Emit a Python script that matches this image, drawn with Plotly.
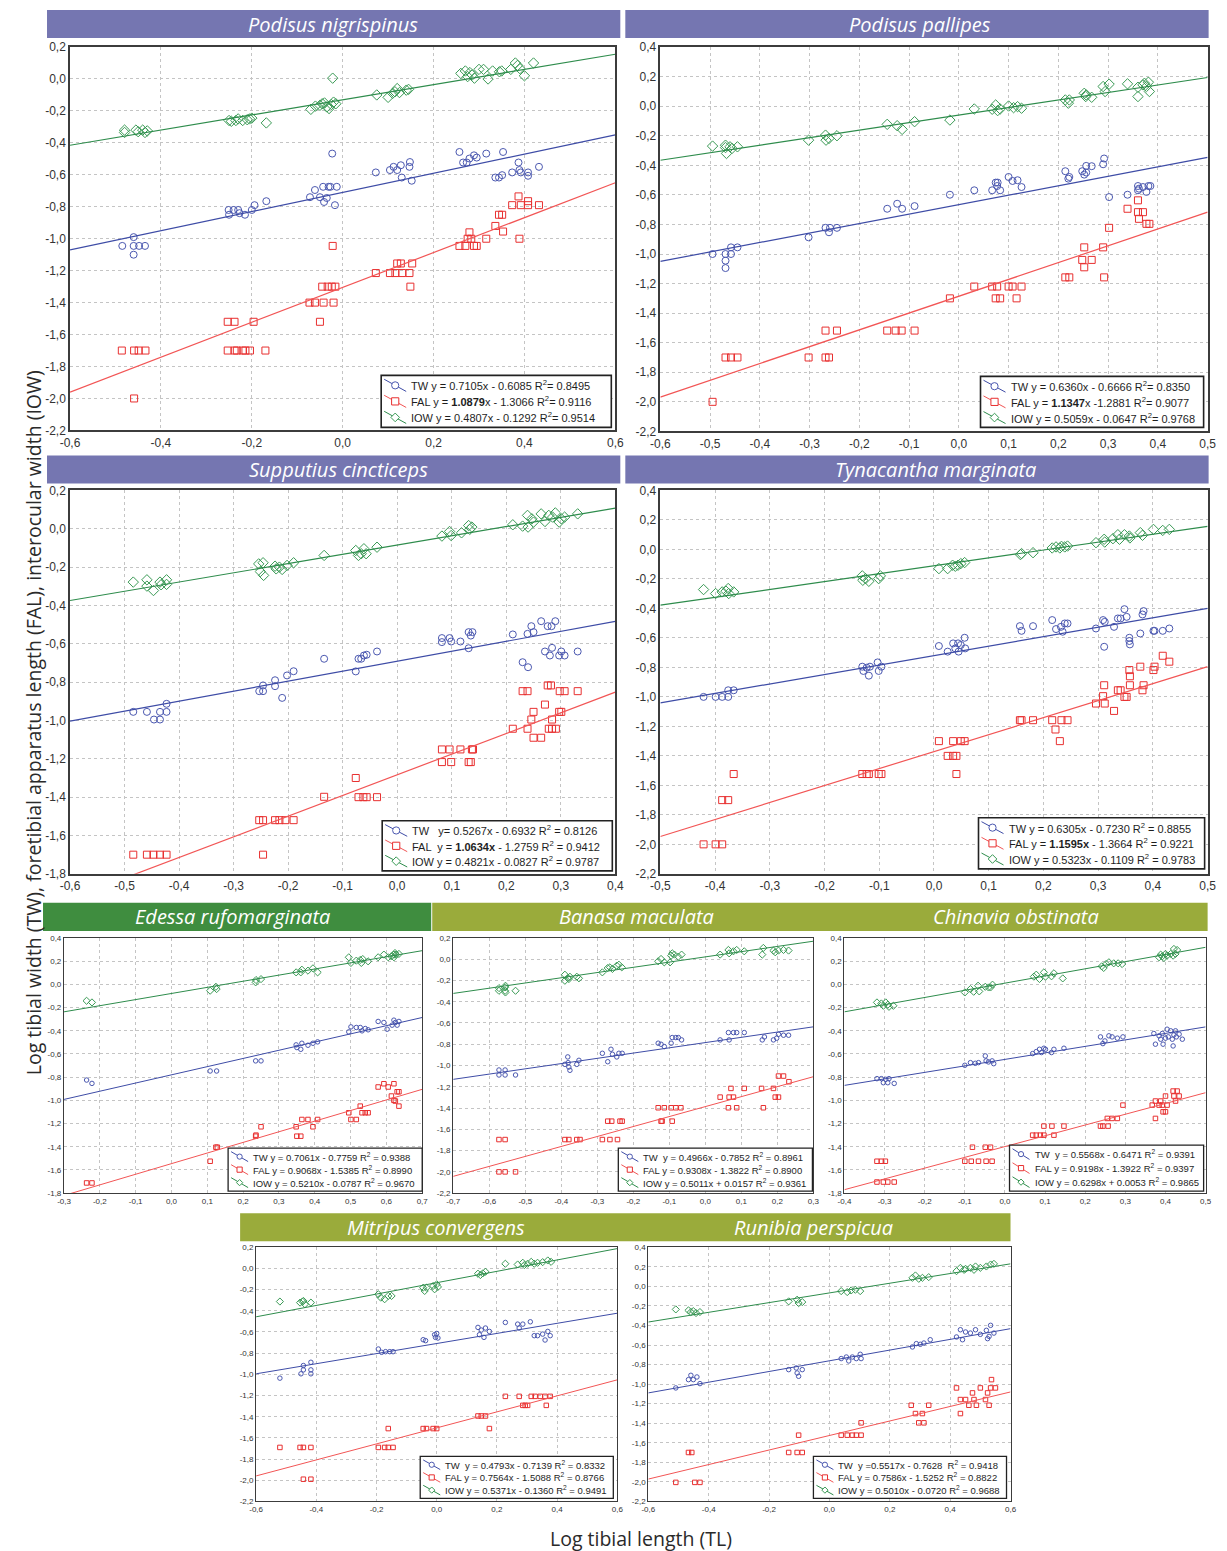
import plotly.graph_objects as go

# ---------------------------------------------------------------- data
species = ["Podisus nigrispinus", "Podisus pallipes", "Supputius cincticeps",
           "Tynacantha marginata", "Edessa rufomarginata", "Banasa maculata",
           "Chinavia obstinata", "Mitripus convergens", "Runibia perspicua"]

x_ranges = [[-0.6, 0.6], [-0.6, 0.5], [-0.6, 0.4], [-0.5, 0.5], [-0.3, 0.7],
            [-0.7, 0.3], [-0.4, 0.5], [-0.6, 0.6], [-0.6, 0.6]]
y_ranges = [[-2.2, 0.2], [-2.2, 0.4], [-1.8, 0.2], [-2.2, 0.4], [-1.8, 0.4],
            [-2.2, 0.2], [-1.8, 0.4], [-2.2, 0.2], [-2.2, 0.4]]
x_tick_steps = [0.2, 0.1, 0.1, 0.1, 0.1, 0.1, 0.1, 0.2, 0.2]
y_tick_step = 0.2

# fitted lines, value at left and right end of the x range
fit_tw = [[-1.07, -0.35], [-1.05, -0.347], [-1.003, -0.483], [-1.04, -0.40], [-0.992, -0.286],
          [-1.13, -0.636], [-0.871, -0.367], [-0.995, -0.423], [-1.09, -0.433]]
fit_fal = [[-1.96, -0.65], [-1.968, -0.717], [-1.93, -0.852], [-1.947, -0.795], [-1.82, -0.905],
           [-2.042, -1.105], [-1.77, -0.934], [-1.959, -1.052], [-1.971, -1.08]]
fit_iow = [[-0.415, 0.155], [-0.366, 0.194], [-0.374, 0.108], [-0.378, 0.156], [-0.237, 0.29],
           [-0.322, 0.169], [-0.237, 0.319], [-0.457, 0.187], [-0.365, 0.23]]

tw_labels = ["TW y = 0.7105x - 0.6085 R<sup>2</sup>= 0.8495",
             "TW y = 0.6360x - 0.6666 R<sup>2</sup>= 0.8350",
             "TW   y= 0.5267x - 0.6932 R<sup>2</sup> = 0.8126",
             "TW y = 0.6305x - 0.7230 R<sup>2</sup> = 0.8855",
             "TW y = 0.7061x - 0.7759 R<sup>2</sup> = 0.9388",
             "TW  y = 0.4966x - 0.7852 R<sup>2</sup> = 0.8961",
             "TW  y = 0.5568x - 0.6471 R<sup>2</sup> = 0.9391",
             "TW  y = 0.4793x - 0.7139 R<sup>2</sup> = 0.8332",
             "TW  y =0.5517x - 0.7628  R<sup>2</sup> = 0.9418"]
fal_labels = ["FAL y = <b>1.0879</b>x - 1.3066 R<sup>2</sup>= 0.9116",
              "FAL y = <b>1.1347</b>x -1.2881 R<sup>2</sup>= 0.9077",
              "FAL  y = <b>1.0634x</b> - 1.2759 R<sup>2</sup> = 0.9412",
              "FAL y = <b>1.1595x</b> - 1.3664 R<sup>2</sup> = 0.9221",
              "FAL y = 0.9068x - 1.5385 R<sup>2</sup> = 0.8990",
              "FAL y = 0.9308x - 1.3822 R<sup>2</sup> = 0.8900",
              "FAL y = 0.9198x - 1.3922 R<sup>2</sup> = 0.9397",
              "FAL y = 0.7564x - 1.5088 R<sup>2</sup> = 0.8766",
              "FAL y = 0.7586x - 1.5252 R<sup>2</sup> = 0.8822"]
iow_labels = ["IOW y = 0.4807x - 0.1292 R<sup>2</sup>= 0.9514",
              "IOW y = 0.5059x - 0.0647 R<sup>2</sup>= 0.9768",
              "IOW y = 0.4821x - 0.0827 R<sup>2</sup> = 0.9787",
              "IOW y = 0.5323x - 0.1109 R<sup>2</sup> = 0.9783",
              "IOW y = 0.5210x - 0.0787 R<sup>2</sup> = 0.9670",
              "IOW y = 0.5011x + 0.0157 R<sup>2</sup> = 0.9361",
              "IOW y = 0.6298x + 0.0053 R<sup>2</sup> = 0.9865",
              "IOW y = 0.5371x - 0.1360 R<sup>2</sup> = 0.9491",
              "IOW y = 0.5010x - 0.0720 R<sup>2</sup> = 0.9688"]

# ---- Podisus nigrispinus
p1_tw = [(-0.485,-1.045),(-0.46,-0.99),(-0.46,-1.045),(-0.46,-1.1),(-0.448,-1.045),(-0.435,-1.045),
 (-0.251,-0.82),(-0.25,-0.85),(-0.24,-0.82),(-0.23,-0.82),(-0.227,-0.84),(-0.215,-0.85),(-0.2,-0.82),(-0.194,-0.79),(-0.168,-0.765),
 (-0.072,-0.74),(-0.061,-0.695),(-0.05,-0.74),(-0.043,-0.675),(-0.041,-0.77),(-0.035,-0.745),(-0.031,-0.675),(-0.027,-0.675),(-0.023,-0.467),(-0.017,-0.79),(-0.013,-0.675),
 (0.073,-0.585),(0.104,-0.57),(0.112,-0.55),(0.12,-0.57),(0.128,-0.54),(0.13,-0.617),(0.147,-0.55),(0.148,-0.52),(0.152,-0.637),
 (0.257,-0.457),(0.265,-0.523),(0.273,-0.523),(0.279,-0.498),(0.289,-0.478),(0.295,-0.492),(0.316,-0.467),(0.336,-0.617),(0.344,-0.617),
 (0.351,-0.602),(0.353,-0.457),(0.373,-0.585),(0.387,-0.523),(0.389,-0.57),(0.392,-0.585),(0.408,-0.585),(0.408,-0.606),(0.432,-0.55)]
p1_fal = [(-0.486,-1.7),(-0.459,-1.7),(-0.449,-1.7),(-0.434,-1.7),(-0.459,-2.0),
 (-0.253,-1.52),(-0.238,-1.52),(-0.196,-1.52),
 (-0.253,-1.7),(-0.238,-1.7),(-0.233,-1.7),(-0.22,-1.7),(-0.214,-1.7),(-0.204,-1.7),(-0.17,-1.7),
 (-0.073,-1.4),(-0.061,-1.4),(-0.042,-1.4),(-0.02,-1.4),
 (-0.045,-1.3),(-0.033,-1.3),(-0.024,-1.3),(-0.016,-1.3),(-0.05,-1.52),(-0.022,-1.045),
 (0.073,-1.215),(0.104,-1.215),(0.116,-1.215),(0.131,-1.215),(0.147,-1.215),
 (0.12,-1.155),(0.128,-1.155),(0.153,-1.155),(0.149,-1.3),
 (0.257,-1.045),(0.27,-1.045),(0.275,-1.0),(0.283,-1.0),(0.289,-1.045),(0.295,-1.045),(0.316,-1.0),(0.389,-1.0),
 (0.279,-0.96),(0.336,-0.92),(0.344,-0.85),(0.351,-0.85),(0.353,-0.955),(0.373,-0.79),(0.387,-0.735),(0.392,-0.79),
 (0.408,-0.765),(0.408,-0.79),(0.432,-0.79)]
p1_iow = [(-0.48,-0.32),(-0.48,-0.335),(-0.455,-0.32),(-0.45,-0.33),(-0.44,-0.32),(-0.435,-0.335),(-0.43,-0.325),
 (-0.25,-0.26),(-0.245,-0.265),(-0.235,-0.26),(-0.23,-0.25),(-0.22,-0.26),(-0.21,-0.255),(-0.205,-0.25),(-0.2,-0.245),(-0.168,-0.275),
 (-0.07,-0.19),(-0.06,-0.17),(-0.05,-0.165),(-0.045,-0.155),(-0.04,-0.15),(-0.035,-0.175),(-0.03,-0.185),(-0.025,-0.16),(-0.02,-0.145),(-0.015,-0.155),(-0.022,0.005),
 (0.075,-0.1),(0.1,-0.115),(0.11,-0.09),(0.115,-0.08),(0.12,-0.06),(0.125,-0.085),(0.14,-0.07),(0.145,-0.065),
 (0.26,0.035),(0.27,0.05),(0.275,0.015),(0.28,0.04),(0.285,0.025),(0.29,0.005),(0.3,0.06),(0.31,0.06),(0.32,0.0),
 (0.33,0.05),(0.345,0.045),(0.35,0.05),(0.37,0.06),(0.38,0.1),(0.385,0.085),(0.39,0.065),(0.4,0.02),(0.42,0.1)]

# ---- Podisus pallipes
p2_tw = [(-0.495,-1.0),(-0.469,-1.0),(-0.469,-1.045),(-0.469,-1.095),(-0.458,-0.955),(-0.458,-1.0),(-0.445,-0.955),
 (-0.302,-0.887),(-0.268,-0.823),(-0.261,-0.853),(-0.259,-0.823),(-0.245,-0.823),
 (-0.144,-0.694),(-0.124,-0.66),(-0.114,-0.694),(-0.089,-0.676),(-0.018,-0.599),
 (0.031,-0.569),(0.067,-0.569),(0.074,-0.517),(0.077,-0.54),(0.078,-0.517),(0.083,-0.569),(0.1,-0.479),(0.108,-0.506),(0.118,-0.501),(0.126,-0.547),
 (0.214,-0.44),(0.22,-0.49),(0.222,-0.479),(0.248,-0.44),(0.252,-0.463),(0.256,-0.404),(0.256,-0.449),(0.267,-0.406),(0.29,-0.393),(0.292,-0.354),
 (0.302,-0.615),(0.339,-0.599),(0.36,-0.54),(0.36,-0.569),(0.362,-0.558),(0.37,-0.547),(0.377,-0.58),(0.381,-0.54),(0.385,-0.54)]
p2_fal = [(-0.495,-2.0),(-0.469,-1.7),(-0.458,-1.7),(-0.445,-1.7),(-0.302,-1.7),(-0.268,-1.7),(-0.261,-1.7),
 (-0.268,-1.518),(-0.245,-1.518),(-0.144,-1.518),(-0.127,-1.518),(-0.115,-1.518),(-0.089,-1.518),
 (-0.018,-1.3),(0.031,-1.22),(0.067,-1.22),(0.077,-1.22),(0.1,-1.22),(0.108,-1.22),(0.126,-1.22),
 (0.074,-1.3),(0.083,-1.3),(0.116,-1.3),
 (0.214,-1.158),(0.222,-1.158),(0.248,-1.04),(0.252,-0.955),(0.252,-1.09),(0.267,-1.04),(0.29,-0.955),(0.292,-1.158),
 (0.302,-0.823),(0.339,-0.694),(0.36,-0.637),(0.36,-0.717),(0.362,-0.762),(0.37,-0.717),(0.377,-0.796),(0.383,-0.796)]
p2_iow = [(-0.495,-0.27),(-0.469,-0.264),(-0.469,-0.28),(-0.467,-0.32),(-0.46,-0.275),(-0.456,-0.286),(-0.445,-0.275),
 (-0.302,-0.23),(-0.268,-0.196),(-0.267,-0.23),(-0.261,-0.218),(-0.245,-0.2),
 (-0.144,-0.123),(-0.124,-0.132),(-0.114,-0.157),(-0.089,-0.105),(-0.018,-0.094),
 (0.031,-0.019),(0.067,-0.021),(0.074,0.008),(0.078,-0.03),(0.083,-0.019),(0.1,0.001),(0.11,-0.01),(0.118,-0.003),(0.126,-0.014),
 (0.214,0.042),(0.22,0.02),(0.222,0.042),(0.252,0.087),(0.255,0.065),(0.256,0.076),(0.267,0.06),
 (0.29,0.133),(0.294,0.099),(0.302,0.149),(0.339,0.151),(0.36,0.128),(0.36,0.065),(0.37,0.144),(0.373,0.155),(0.377,0.133),(0.381,0.162),(0.383,0.099)]

# ---- Supputius cincticeps
p3_tw = [(-0.484,-0.955),(-0.459,-0.955),(-0.446,-0.995),(-0.435,-0.955),(-0.435,-0.995),(-0.423,-0.955),(-0.423,-0.913),
 (-0.253,-0.847),(-0.246,-0.817),(-0.246,-0.847),(-0.224,-0.821),(-0.224,-0.79),(-0.211,-0.882),(-0.202,-0.765),(-0.19,-0.743),
 (-0.134,-0.678),(-0.076,-0.744),(-0.071,-0.678),(-0.066,-0.678),(-0.061,-0.661),(-0.056,-0.657),(-0.037,-0.64),
 (0.082,-0.57),(0.082,-0.591),(0.096,-0.57),(0.099,-0.588),(0.116,-0.588),(0.131,-0.539),(0.131,-0.623),(0.135,-0.557),(0.138,-0.539),
 (0.212,-0.551),(0.23,-0.696),(0.239,-0.548),(0.24,-0.722),(0.246,-0.508),(0.25,-0.539),(0.264,-0.482),(0.271,-0.64),(0.276,-0.508),
 (0.28,-0.661),(0.283,-0.508),(0.284,-0.621),(0.29,-0.482),(0.297,-0.661),(0.301,-0.64),(0.307,-0.661),(0.331,-0.64)]
p3_fal = [(-0.484,-1.7),(-0.459,-1.7),(-0.447,-1.7),(-0.435,-1.7),(-0.423,-1.7),
 (-0.253,-1.52),(-0.246,-1.52),(-0.224,-1.52),(-0.216,-1.52),(-0.205,-1.52),(-0.19,-1.52),(-0.246,-1.7),
 (-0.134,-1.398),(-0.076,-1.3),(-0.071,-1.4),(-0.062,-1.4),(-0.056,-1.4),(-0.037,-1.4),
 (0.082,-1.151),(0.082,-1.217),(0.096,-1.151),(0.099,-1.217),(0.116,-1.151),(0.131,-1.217),(0.135,-1.217),(0.137,-1.151),(0.139,-1.151),
 (0.212,-1.043),(0.23,-0.847),(0.239,-0.847),(0.239,-1.043),(0.246,-0.995),(0.25,-0.955),(0.25,-1.09),(0.264,-1.09),(0.271,-0.917),
 (0.276,-0.817),(0.282,-0.817),(0.278,-1.043),(0.284,-0.995),(0.284,-1.043),(0.291,-1.043),(0.297,-0.955),(0.298,-0.847),(0.301,-0.955),
 (0.307,-0.847),(0.331,-0.847)]
p3_iow = [(-0.484,-0.278),(-0.459,-0.266),(-0.459,-0.299),(-0.447,-0.322),(-0.435,-0.278),(-0.433,-0.292),(-0.423,-0.266),(-0.423,-0.29),
 (-0.254,-0.183),(-0.251,-0.223),(-0.246,-0.177),(-0.245,-0.243),(-0.224,-0.195),(-0.222,-0.209),(-0.216,-0.2),(-0.211,-0.212),(-0.202,-0.191),(-0.19,-0.177),
 (-0.134,-0.139),(-0.076,-0.113),(-0.071,-0.139),(-0.066,-0.13),(-0.061,-0.104),(-0.057,-0.13),(-0.037,-0.096),
 (0.082,-0.038),(0.096,-0.014),(0.099,-0.035),(0.118,-0.021),(0.131,0.017),(0.133,-0.003),(0.137,0.009),
 (0.212,0.021),(0.23,0.014),(0.239,0.07),(0.24,0.009),(0.247,0.052),(0.25,0.035),(0.264,0.078),(0.271,0.038),(0.278,0.07),
 (0.285,0.061),(0.29,0.083),(0.297,0.035),(0.301,0.052),(0.307,0.061),(0.331,0.078)]

# ---- Tynacantha marginata
p4_tw = [(-0.421,-1.0),(-0.399,-1.0),(-0.387,-1.0),(-0.376,-1.0),(-0.376,-0.955),(-0.366,-0.955),
 (-0.131,-0.795),(-0.129,-0.824),(-0.123,-0.802),(-0.119,-0.856),(-0.117,-0.795),(-0.103,-0.766),(-0.101,-0.824),(-0.096,-0.795),
 (0.009,-0.655),(0.025,-0.693),(0.035,-0.637),(0.039,-0.671),(0.044,-0.637),(0.045,-0.693),(0.049,-0.648),(0.056,-0.599),(0.057,-0.671),
 (0.157,-0.52),(0.16,-0.552),(0.181,-0.52),(0.216,-0.479),(0.223,-0.54),(0.232,-0.525),(0.235,-0.558),(0.239,-0.502),(0.244,-0.502),
 (0.296,-0.536),(0.309,-0.479),(0.311,-0.66),(0.312,-0.491),(0.329,-0.525),(0.336,-0.468),(0.341,-0.468),(0.348,-0.405),(0.352,-0.457),
 (0.357,-0.599),(0.357,-0.621),(0.358,-0.644),(0.377,-0.57),(0.381,-0.441),(0.383,-0.418),(0.401,-0.552),(0.403,-0.552),(0.418,-0.552),(0.43,-0.536)]
p4_fal = [(-0.421,-2.0),(-0.399,-2.0),(-0.387,-2.0),(-0.387,-1.7),(-0.376,-1.7),(-0.366,-1.523),
 (-0.131,-1.523),(-0.123,-1.523),(-0.119,-1.523),(-0.101,-1.523),(-0.096,-1.523),
 (0.009,-1.3),(0.025,-1.4),(0.035,-1.4),(0.035,-1.3),(0.041,-1.4),(0.041,-1.523),(0.049,-1.3),(0.056,-1.3),
 (0.157,-1.158),(0.16,-1.158),(0.181,-1.158),(0.216,-1.158),(0.222,-1.221),(0.23,-1.3),(0.233,-1.158),(0.244,-1.158),
 (0.296,-1.045),(0.309,-0.995),(0.311,-0.921),(0.312,-1.045),(0.329,-1.095),(0.336,-0.955),(0.341,-0.955),(0.348,-1.0),(0.352,-1.0),
 (0.358,-0.921),(0.358,-0.86),(0.381,-0.955),(0.383,-0.921),
 (0.357,-0.818),(0.377,-0.795),(0.401,-0.818),(0.403,-0.795),(0.418,-0.721),(0.43,-0.761)]
p4_iow = [(-0.421,-0.272),(-0.399,-0.299),(-0.387,-0.288),(-0.38,-0.283),(-0.376,-0.265),(-0.375,-0.299),(-0.366,-0.288),
 (-0.131,-0.179),(-0.13,-0.209),(-0.125,-0.198),(-0.119,-0.216),(-0.101,-0.198),(-0.098,-0.179),
 (0.009,-0.13),(0.025,-0.13),(0.034,-0.107),(0.039,-0.114),(0.044,-0.107),(0.049,-0.096),(0.056,-0.089),
 (0.158,-0.035),(0.16,-0.028),(0.181,-0.022),(0.216,0.01),(0.223,0.017),(0.23,0.01),(0.233,0.021),(0.239,0.017),(0.244,0.023),
 (0.296,0.046),(0.311,0.069),(0.312,0.05),(0.327,0.073),(0.336,0.1),(0.339,0.069),(0.348,0.1),(0.357,0.091),(0.358,0.078),
 (0.377,0.114),(0.381,0.096),(0.401,0.136),(0.418,0.129),(0.43,0.136)]

# ---- Edessa rufomarginata
p5_tw = [(-0.237,-0.825),(-0.222,-0.854),(0.108,-0.747),(0.126,-0.747),(0.235,-0.66),(0.25,-0.66),
 (0.348,-0.522),(0.35,-0.545),(0.361,-0.56),(0.364,-0.508),(0.381,-0.525),(0.395,-0.508),(0.408,-0.496),
 (0.495,-0.41),(0.501,-0.367),(0.516,-0.372),(0.527,-0.372),(0.532,-0.401),(0.541,-0.381),(0.549,-0.392),
 (0.577,-0.32),(0.593,-0.329),(0.602,-0.387),(0.616,-0.352),(0.621,-0.309),(0.625,-0.329),(0.63,-0.352),(0.635,-0.32)]
p5_fal = [(-0.237,-1.712),(-0.222,-1.712),(0.108,-1.525),(0.124,-1.404),(0.128,-1.404),(0.235,-1.309),(0.236,-1.3),(0.25,-1.228),
 (0.348,-1.228),(0.35,-1.309),(0.361,-1.309),(0.364,-1.165),(0.381,-1.165),(0.395,-1.228),(0.408,-1.165),
 (0.495,-1.107),(0.501,-1.165),(0.516,-1.165),(0.527,-1.05),(0.532,-1.107),(0.541,-1.107),(0.549,-1.107),
 (0.577,-0.885),(0.593,-0.857),(0.605,-0.885),(0.614,-0.963),(0.621,-0.857),(0.621,-1.0),(0.625,-1.006),(0.63,-0.926),(0.635,-1.05),(0.635,-0.926)]
p5_iow = [(-0.237,-0.142),(-0.222,-0.156),(0.108,-0.055),(0.124,-0.021),(0.126,-0.041),(0.235,0.017),(0.236,0.037),(0.25,0.045),
 (0.348,0.103),(0.361,0.103),(0.364,0.126),(0.381,0.118),(0.395,0.138),(0.408,0.103),
 (0.495,0.233),(0.501,0.184),(0.516,0.204),(0.527,0.21),(0.53,0.184),(0.534,0.218),(0.549,0.198),
 (0.577,0.233),(0.593,0.256),(0.605,0.233),(0.614,0.241),(0.621,0.256),(0.624,0.27),(0.627,0.256),(0.635,0.262),(0.621,0.233)]

# ---- Banasa maculata
p6_tw = [(-0.573,-1.042),(-0.573,-1.089),(-0.556,-1.042),(-0.556,-1.089),(-0.527,-1.089),
 (-0.39,-0.989),(-0.382,-0.919),(-0.381,-0.973),(-0.379,-1.014),(-0.376,-1.045),(-0.357,-0.989),(-0.351,-0.951),
 (-0.286,-0.885),(-0.271,-0.964),(-0.262,-0.847),(-0.258,-0.894),(-0.246,-0.919),(-0.24,-0.885),(-0.231,-0.885),
 (-0.131,-0.79),(-0.123,-0.8),(-0.114,-0.822),(-0.095,-0.79),(-0.092,-0.737),(-0.082,-0.737),(-0.075,-0.737),(-0.066,-0.759),
 (0.041,-0.759),(0.064,-0.69),(0.066,-0.759),(0.078,-0.69),(0.087,-0.69),(0.108,-0.69),(0.158,-0.759),(0.164,-0.731),
 (0.189,-0.759),(0.198,-0.743),(0.203,-0.706),(0.217,-0.715),(0.231,-0.715)]
p6_fal = [(-0.573,-1.696),(-0.556,-1.696),(-0.573,-2.0),(-0.556,-2.0),(-0.527,-2.0),
 (-0.39,-1.696),(-0.379,-1.696),(-0.357,-1.696),(-0.348,-1.696),
 (-0.286,-1.696),(-0.265,-1.696),(-0.244,-1.696),(-0.271,-1.523),(-0.26,-1.523),(-0.237,-1.523),(-0.231,-1.523),
 (-0.131,-1.397),(-0.114,-1.397),(-0.095,-1.397),(-0.082,-1.397),(-0.068,-1.397),(-0.123,-1.523),(-0.12,-1.523),(-0.092,-1.523),
 (0.041,-1.297),(0.064,-1.397),(0.066,-1.297),(0.071,-1.215),(0.078,-1.297),(0.087,-1.397),(0.108,-1.215),(0.156,-1.215),
 (0.161,-1.397),(0.189,-1.215),(0.194,-1.297),(0.203,-1.297),(0.203,-1.099),(0.217,-1.099),(0.232,-1.152)]
p6_iow = [(-0.573,-0.297),(-0.573,-0.272),(-0.556,-0.265),(-0.556,-0.297),(-0.555,-0.313),(-0.527,-0.297),(-0.555,-0.25),
 (-0.39,-0.146),(-0.39,-0.203),(-0.382,-0.177),(-0.379,-0.187),(-0.376,-0.165),(-0.357,-0.165),(-0.351,-0.18),
 (-0.286,-0.124),(-0.271,-0.083),(-0.265,-0.077),(-0.258,-0.092),(-0.246,-0.061),(-0.24,-0.052),(-0.232,-0.077),
 (-0.131,-0.02),(-0.123,0.002),(-0.114,-0.03),(-0.095,0.033),(-0.092,0.055),(-0.086,0.043),(-0.075,0.024),(-0.066,0.043),(-0.098,-0.03),
 (0.041,0.043),(0.064,0.087),(0.066,0.055),(0.078,0.074),(0.087,0.087),(0.108,0.074),(0.158,0.043),(0.161,0.106),
 (0.189,0.081),(0.203,0.081),(0.217,0.087),(0.231,0.081),(0.194,0.065)]

# ---- Chinavia obstinata
p7_tw = [(-0.319,-0.813),(-0.308,-0.813),(-0.303,-0.848),(-0.297,-0.819),(-0.292,-0.848),(-0.289,-0.813),(-0.276,-0.854),
 (-0.1,-0.698),(-0.086,-0.675),(-0.074,-0.681),(-0.066,-0.675),(-0.049,-0.617),(-0.047,-0.66),(-0.041,-0.669),(-0.032,-0.66),(-0.028,-0.684),
 (0.069,-0.597),(0.078,-0.58),(0.086,-0.56),(0.091,-0.588),(0.097,-0.551),(0.101,-0.56),(0.116,-0.588),(0.122,-0.56),(0.147,-0.551),
 (0.238,-0.453),(0.244,-0.511),(0.249,-0.488),(0.259,-0.444),(0.267,-0.453),(0.28,-0.464),(0.294,-0.453),
 (0.371,-0.424),(0.375,-0.516),(0.384,-0.444),(0.388,-0.473),(0.392,-0.424),(0.394,-0.516),(0.4,-0.464),(0.404,-0.387),
 (0.407,-0.453),(0.413,-0.401),(0.417,-0.473),(0.425,-0.401),(0.427,-0.453),(0.434,-0.43),(0.442,-0.473),(0.419,-0.531),(0.421,-0.436)]
p7_fal = [(-0.319,-1.525),(-0.308,-1.525),(-0.298,-1.525),(-0.319,-1.704),(-0.303,-1.704),(-0.292,-1.704),(-0.276,-1.704),
 (-0.1,-1.525),(-0.081,-1.404),(-0.084,-1.525),(-0.066,-1.525),(-0.049,-1.404),(-0.047,-1.525),(-0.036,-1.404),(-0.032,-1.525),
 (0.069,-1.3),(0.078,-1.3),(0.088,-1.3),(0.097,-1.3),(0.097,-1.222),(0.117,-1.222),(0.122,-1.3),(0.147,-1.222),
 (0.238,-1.222),(0.244,-1.222),(0.257,-1.222),(0.255,-1.156),(0.267,-1.156),(0.28,-1.156),(0.294,-1.041),
 (0.367,-1.041),(0.375,-1.006),(0.375,-1.156),(0.384,-1.041),(0.392,-1.041),(0.394,-1.099),(0.4,-1.099),(0.4,-0.963),
 (0.404,-1.041),(0.419,-0.92),(0.421,-0.963),(0.425,-1.006),(0.429,-0.92),(0.434,-0.963),(0.388,-1.006)]
p7_iow = [(-0.319,-0.156),(-0.308,-0.165),(-0.303,-0.185),(-0.297,-0.156),(-0.292,-0.176),(-0.289,-0.194),(-0.278,-0.185),
 (-0.1,-0.07),(-0.086,-0.041),(-0.078,-0.064),(-0.067,-0.012),(-0.064,-0.061),(-0.049,-0.021),(-0.041,-0.027),(-0.031,-0.003),(-0.036,-0.027),
 (0.072,0.066),(0.078,0.083),(0.086,0.046),(0.097,0.103),(0.101,0.066),(0.116,0.069),(0.122,0.095),(0.144,0.051),
 (0.241,0.155),(0.246,0.141),(0.252,0.175),(0.259,0.19),(0.271,0.181),(0.282,0.181),(0.292,0.175),
 (0.384,0.233),(0.392,0.241),(0.396,0.227),(0.4,0.262),(0.404,0.247),(0.413,0.262),(0.419,0.247),(0.425,0.262),
 (0.421,0.305),(0.429,0.296),(0.388,0.256)]

# ---- Mitripus convergens
p8_tw = [(-0.521,-1.036),(-0.451,-0.995),(-0.443,-0.917),(-0.443,-0.958),(-0.418,-0.886),(-0.418,-0.958),(-0.418,-0.995),
 (-0.194,-0.761),(-0.183,-0.792),(-0.17,-0.786),(-0.156,-0.786),(-0.145,-0.786),
 (-0.045,-0.673),(-0.037,-0.682),(-0.007,-0.626),(-0.004,-0.651),(0.0,-0.614),(0.004,-0.657),
 (0.137,-0.557),(0.142,-0.626),(0.148,-0.582),(0.157,-0.651),(0.162,-0.563),(0.175,-0.595),
 (0.228,-0.51),(0.269,-0.526),(0.274,-0.563),(0.286,-0.526),(0.311,-0.504),(0.324,-0.635),(0.335,-0.635),
 (0.352,-0.62),(0.36,-0.676),(0.369,-0.595),(0.377,-0.635)]
p8_fal = [(-0.521,-1.69),(-0.454,-1.69),(-0.443,-1.69),(-0.418,-1.69),(-0.443,-1.99),(-0.418,-1.99),
 (-0.194,-1.69),(-0.173,-1.69),(-0.161,-1.69),(-0.145,-1.69),(-0.161,-1.512),
 (-0.045,-1.512),(-0.034,-1.512),(-0.012,-1.512),(0.0,-1.512),
 (0.137,-1.393),(0.148,-1.393),(0.162,-1.393),(0.175,-1.512),
 (0.228,-1.208),(0.274,-1.208),(0.286,-1.293),(0.302,-1.293),(0.314,-1.208),(0.327,-1.208),(0.344,-1.208),
 (0.36,-1.208),(0.377,-1.208),(0.294,-1.293),(0.364,-1.293)]
p8_iow = [(-0.521,-0.313),(-0.454,-0.323),(-0.446,-0.313),(-0.438,-0.338),(-0.443,-0.307),(-0.418,-0.323),
 (-0.194,-0.244),(-0.186,-0.276),(-0.173,-0.291),(-0.161,-0.26),(-0.15,-0.26),
 (-0.045,-0.182),(-0.04,-0.213),(-0.034,-0.182),(-0.012,-0.166),(-0.007,-0.197),(0.0,-0.15),(0.004,-0.175),
 (0.137,-0.05),(0.145,-0.063),(0.153,-0.047),(0.162,-0.032),
 (0.228,0.044),(0.269,0.037),(0.286,0.053),(0.302,0.044),(0.314,0.062),(0.335,0.053),(0.352,0.059),
 (0.369,0.075),(0.38,0.062),(0.291,0.031),(0.324,0.044)]

# ---- Runibia perspicua
p9_tw = [(-0.509,-1.039),(-0.467,-0.954),(-0.459,-0.91),(-0.451,-0.954),(-0.439,-0.927),(-0.429,-0.995),
 (-0.135,-0.852),(-0.11,-0.835),(-0.107,-0.886),(-0.102,-0.92),(-0.09,-0.852),
 (0.039,-0.739),(0.056,-0.723),(0.064,-0.763),(0.076,-0.723),(0.089,-0.739),(0.102,-0.695),(0.105,-0.739),
 (0.275,-0.62),(0.288,-0.586),(0.301,-0.593),(0.313,-0.58),(0.334,-0.546),
 (0.421,-0.518),(0.434,-0.444),(0.441,-0.546),(0.451,-0.467),(0.467,-0.478),(0.484,-0.444),(0.5,-0.491),
 (0.52,-0.45),(0.529,-0.512),(0.534,-0.399),(0.545,-0.478),(0.524,-0.535)]
p9_fal = [(-0.509,-2.005),(-0.446,-2.005),(-0.429,-2.005),(-0.467,-1.699),(-0.456,-1.699),
 (-0.135,-1.699),(-0.107,-1.699),(-0.09,-1.699),(-0.102,-1.522),
 (0.039,-1.522),(0.059,-1.522),(0.076,-1.522),(0.089,-1.522),(0.105,-1.522),(0.105,-1.396),
 (0.271,-1.216),(0.285,-1.301),(0.296,-1.396),(0.308,-1.301),(0.313,-1.396),(0.329,-1.216),
 (0.421,-1.039),(0.434,-1.158),(0.434,-1.301),(0.451,-1.158),(0.462,-1.216),(0.474,-1.09),(0.479,-1.158),
 (0.487,-1.216),(0.5,-1.039),(0.517,-1.158),(0.524,-1.09),(0.529,-1.216),(0.534,-1.039),(0.537,-0.954),(0.55,-1.039)]
p9_iow = [(-0.509,-0.236),(-0.467,-0.246),(-0.459,-0.263),(-0.451,-0.253),(-0.442,-0.273),(-0.429,-0.263),
 (-0.135,-0.154),(-0.107,-0.137),(-0.102,-0.171),(-0.09,-0.161),
 (0.039,-0.049),(0.059,-0.059),(0.072,-0.042),(0.086,-0.035),(0.102,-0.049),
 (0.275,0.087),(0.285,0.111),(0.296,0.077),(0.308,0.087),(0.329,0.094),
 (0.421,0.155),(0.434,0.189),(0.451,0.179),(0.467,0.189),(0.484,0.203),(0.5,0.189),(0.52,0.203),
 (0.534,0.223),(0.545,0.23),(0.446,0.169),(0.479,0.169)]

tw_data = [p1_tw, p2_tw, p3_tw, p4_tw, p5_tw, p6_tw, p7_tw, p8_tw, p9_tw]
fal_data = [p1_fal, p2_fal, p3_fal, p4_fal, p5_fal, p6_fal, p7_fal, p8_fal, p9_fal]
iow_data = [p1_iow, p2_iow, p3_iow, p4_iow, p5_iow, p6_iow, p7_iow, p8_iow, p9_iow]

# ---------------------------------------------------------------- layout / style
W, H = 1227, 1551
# the photographed page shows the figure shifted / slightly shrunk; positions below
# are page pixels, converted into figure coordinates with this calibration
SX, CX = 0.984, 18.0
SY, CY = 0.990, 15.0

# plot boxes in page pixels: left, top, right, bottom
boxes = [(70, 47, 615, 430), (660, 47, 1207, 431), (70, 490, 615, 873), (660, 490, 1207, 873),
         (64, 937, 422, 1192), (453, 937, 813, 1192), (844, 937, 1205, 1192),
         (256, 1246, 617, 1500), (648, 1246, 1010, 1500)]
big = [True, True, True, True, False, False, False, False, False]
# legend boxes: left, top, right, bottom
legend_boxes = [(381, 375, 611, 427), (980, 376, 1203, 427), (382, 820, 612, 870), (978, 817, 1204, 868),
                (228, 1147, 422, 1190), (618, 1147, 812, 1190), (1009, 1144, 1203, 1190),
                (420, 1455, 613, 1497), (813, 1455, 1006, 1497)]

PURPLE, GREEN, OLIVE = "#7576b1", "#3f8d3f", "#9aab3b"
bars = [(47, 10, 620, 38, PURPLE), (625, 10, 1208, 38, PURPLE),
        (47, 455, 620, 483, PURPLE), (625, 455, 1208, 483, PURPLE),
        (43, 902, 431, 930, GREEN), (432, 902, 1207, 930, OLIVE),
        (240, 1212, 1010, 1240, OLIVE)]
title_xy = [(333, 24), (920, 24), (338, 469), (935, 469), (232, 916), (636, 916),
            (1015, 916), (436, 1226), (813, 1226)]

C_TW, C_FAL, C_IOW = "#4b58b0", "#e83030", "#3a9a55"
L_TW, L_FAL, L_IOW = "#3e4ca6", "#f25555", "#2e8c4c"
TICKFONT = "Liberation Sans Narrow, Arial Narrow, Liberation Sans, Arial"
LEGFONT = "Liberation Sans, Arial"
LABELFONT = "Open Sans, Noto Sans, DejaVu Sans"


def px_x(p):
    return ((p - CX) / SX) / W


def px_y(p):
    return 1 - ((p - CY) / SY) / H


def tick_vals(lo, hi, step):
    n = int(round((hi - lo) / step))
    return [round(lo + i * step, 2) for i in range(n + 1)]


def tick_text(vals):
    out = []
    for v in vals:
        s = f"{v:.1f}".replace(".", ",")
        out.append("0,0" if s == "-0,0" else s)
    return out


fig = go.Figure()
layout = dict(width=W, height=H, margin=dict(l=0, r=0, t=0, b=0), autosize=False,
              paper_bgcolor="white", plot_bgcolor="white", showlegend=False)
shapes = []
ann = []

for x0, y0, x1, y1, col in bars:
    shapes.append(dict(type="rect", xref="paper", yref="paper", x0=px_x(x0), x1=px_x(x1),
                       y0=px_y(y1), y1=px_y(y0), fillcolor=col, line=dict(width=0), layer="below"))

for i in range(9):
    sfx = "" if i == 0 else str(i + 1)
    xa, ya = "x" + sfx, "y" + sfx
    l, t, r, b = boxes[i]
    msize = 7 if big[i] else 4.5
    lw = 1.2 if big[i] else 1.0
    series = [(tw_data[i], fit_tw[i], "circle-open", C_TW, L_TW),
              (fal_data[i], fit_fal[i], "square-open", C_FAL, L_FAL),
              (iow_data[i], fit_iow[i], "diamond-open", C_IOW, L_IOW)]
    for pts, fit, sym, mc, lc in series:
        fig.add_trace(go.Scatter(x=[p[0] for p in pts], y=[p[1] for p in pts], mode="markers",
                                 marker=dict(symbol=sym, size=msize if sym != "diamond-open" else msize + 1,
                                             color=mc, line=dict(width=1, color=mc)),
                                 xaxis=xa, yaxis=ya, showlegend=False, hoverinfo="skip"))
        fig.add_trace(go.Scatter(x=x_ranges[i], y=fit, mode="lines",
                                 line=dict(color=lc, width=lw),
                                 xaxis=xa, yaxis=ya, showlegend=False, hoverinfo="skip"))
    xt = tick_vals(x_ranges[i][0], x_ranges[i][1], x_tick_steps[i])
    yt = tick_vals(y_ranges[i][0], y_ranges[i][1], y_tick_step)
    fsz = 12 if big[i] else 8
    common = dict(showgrid=True, gridcolor="#c4c4c4", griddash="dot", gridwidth=1,
                  zeroline=False, showline=True, mirror=True, linecolor="#3c3c3c",
                  linewidth=1.5 if big[i] else 1.2, ticks="", fixedrange=True,
                  tickfont=dict(family=TICKFONT, size=fsz, color="#333333"))
    layout["xaxis" + sfx] = dict(common, domain=[px_x(l), px_x(r)], range=x_ranges[i],
                                 tickmode="array", tickvals=xt, ticktext=tick_text(xt), anchor=ya)
    layout["yaxis" + sfx] = dict(common, domain=[px_y(b), px_y(t)], range=y_ranges[i],
                                 tickmode="array", tickvals=yt, ticktext=tick_text(yt), anchor=xa)

    # ---- legend box (key of the three regressions)
    gx0, gy0, gx1, gy1 = legend_boxes[i]
    shapes.append(dict(type="rect", xref="paper", yref="paper", x0=px_x(gx0), x1=px_x(gx1),
                       y0=px_y(gy1), y1=px_y(gy0), fillcolor="white",
                       line=dict(color="#222222", width=1.6 if big[i] else 1.3), layer="above"))
    rowh = (gy1 - gy0 - 4) / 3.0
    seg = 22 if big[i] else 17
    rad = 3.6 if big[i] else 2.6
    for k, (sym, mc, lc, lab) in enumerate([("circle", C_TW, L_TW, tw_labels[i]),
                                            ("square", C_FAL, L_FAL, fal_labels[i]),
                                            ("diamond", C_IOW, L_IOW, iow_labels[i])]):
        yc = gy0 + 2 + rowh * (k + 0.5)
        sx0 = gx0 + 3
        shapes.append(dict(type="line", xref="paper", yref="paper",
                           x0=px_x(sx0), y0=px_y(yc - rowh * 0.38),
                           x1=px_x(sx0 + seg), y1=px_y(yc + rowh * 0.38),
                           line=dict(color=lc, width=1), layer="above"))
        mx, my = sx0 + seg * 0.5, yc
        if sym == "circle":
            shapes.append(dict(type="circle", xref="paper", yref="paper",
                               x0=px_x(mx - rad), x1=px_x(mx + rad), y0=px_y(my + rad), y1=px_y(my - rad),
                               fillcolor="white", line=dict(color=mc, width=1), layer="above"))
        elif sym == "square":
            shapes.append(dict(type="rect", xref="paper", yref="paper",
                               x0=px_x(mx - rad), x1=px_x(mx + rad), y0=px_y(my + rad), y1=px_y(my - rad),
                               fillcolor="white", line=dict(color=mc, width=1), layer="above"))
        else:
            rr = rad * 1.2
            path = (f"M {px_x(mx)},{px_y(my - rr)} L {px_x(mx + rr)},{px_y(my)} "
                    f"L {px_x(mx)},{px_y(my + rr)} L {px_x(mx - rr)},{px_y(my)} Z")
            shapes.append(dict(type="path", xref="paper", yref="paper", path=path,
                               fillcolor="white", line=dict(color=mc, width=1), layer="above"))
        ann.append(dict(text=lab, x=px_x(sx0 + seg + 3), y=px_y(yc), xref="paper", yref="paper",
                        showarrow=False, xanchor="left", yanchor="middle",
                        font=dict(family=LEGFONT, size=11 if big[i] else 9.5, color="#1e1e1e")))

layout["shapes"] = shapes

for name, (cx, cy) in zip(species, title_xy):
    ann.append(dict(text=f"<i>{name}</i>", x=px_x(cx), y=px_y(cy), xref="paper", yref="paper",
                    showarrow=False, xanchor="center", yanchor="middle",
                    font=dict(family=LABELFONT, size=20, color="white")))
ann.append(dict(text="Log tibial width (TW), foretibial apparatus length (FAL), interocular width (IOW)",
                x=0.0, y=px_y(722), xref="paper", yref="paper", showarrow=False, textangle=-90,
                xanchor="left", yanchor="middle",
                font=dict(family=LABELFONT, size=19.5, color="#2a2a2a")))
ann.append(dict(text="Log tibial length (TL)", x=px_x(641), y=px_y(1537), xref="paper", yref="paper",
                showarrow=False, xanchor="center", yanchor="middle",
                font=dict(family=LABELFONT, size=19.5, color="#2a2a2a")))
layout["annotations"] = ann

fig.update_layout(**layout)
fig.write_html("out.html")
